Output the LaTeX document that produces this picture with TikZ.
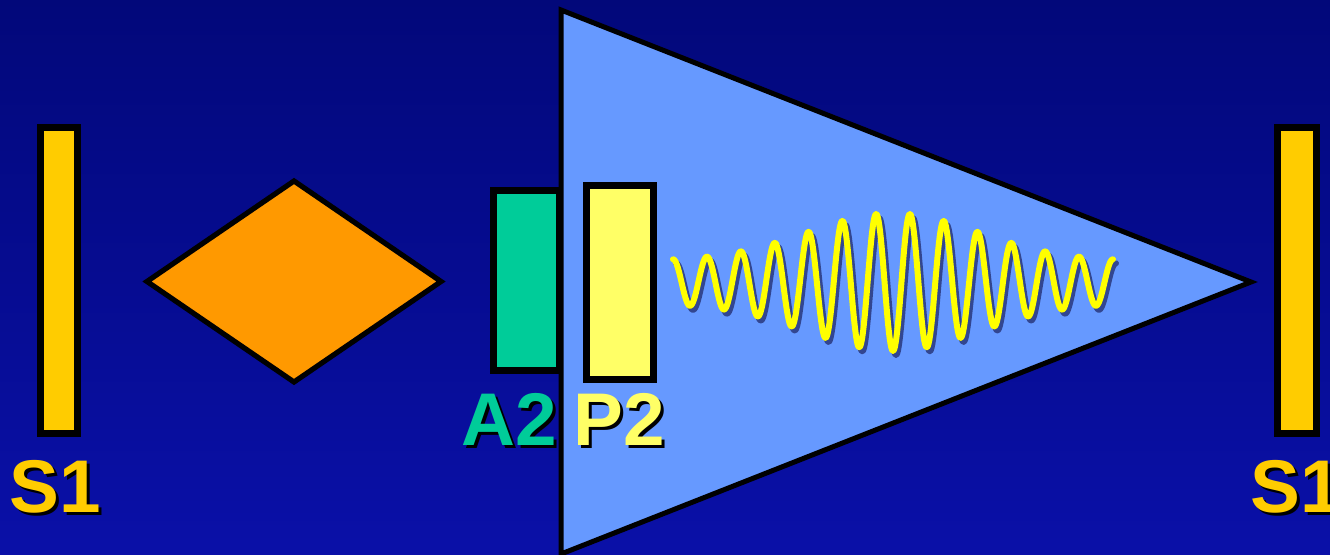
\documentclass[tikz,border=0pt]{standalone}
\usepackage{fontspec}
\setmainfont{Liberation Sans}
\definecolor{bgTop}{RGB}{2,8,122}
\definecolor{bgBot}{RGB}{10,16,168}
\definecolor{barYellow}{RGB}{255,204,0}
\definecolor{diaOrange}{RGB}{255,153,0}
\definecolor{aGreen}{RGB}{0,204,153}
\definecolor{pYellow}{RGB}{255,255,102}
\definecolor{triBlue}{RGB}{102,153,255}
\definecolor{waveYellow}{RGB}{255,255,0}
\definecolor{waveShadow}{RGB}{38,50,118}
\begin{document}
\begin{tikzpicture}[x=0.75pt,y=-0.75pt,
  barbox/.style={draw=black, line width=5.25pt, fill=barYellow},
  lbl/.style={font=\fontsize{56}{56}\selectfont\bfseries, inner sep=0pt, anchor=base},
  lblshadow/.style={lbl, text=black},
  wavestyle/.style={line width=4.5pt, line join=round, line cap=round}
]
\useasboundingbox (0,0) rectangle (1330,555);
\clip (0,0) rectangle (1330,555);
\shade[top color=bgTop, bottom color=bgBot] (0,0) rectangle (1330,555);

% left mirror S1
\path[barbox] (40.5,128) rectangle (77.5,433.5);
\node[lblshadow] (s1Lsh) at (58,515) {S1};
\node[lbl, text=barYellow] (s1L) at (55,512) {S1};

% diamond
\path[draw=black, line width=3.9pt, line join=miter, fill=diaOrange]
  (147,281.5) -- (294,181) -- (441,281.5) -- (294,382) -- cycle;

% amplifier triangle
\path[draw=black, line width=3.75pt, line join=miter, fill=triBlue]
  (561,10) -- (1251,282) -- (561,554) -- cycle;

% A2 block
\path[draw=black, line width=5.25pt, fill=aGreen] (493,191) rectangle (559,371);
\node[lblshadow] (a2sh) at (512,448) {A2};
\node[lbl, text=aGreen] (a2) at (509,445) {A2};

% P2 block
\path[draw=black, line width=5.25pt, fill=pYellow] (586.5,185.5) rectangle (653,379.5);
\node[lblshadow] (p2sh) at (622,448) {P2};
\node[lbl, text=pYellow] (p2) at (619,445) {P2};

% pulse
\draw[wavestyle, draw=waveShadow, opacity=0.8, shift={(3,4)}]
  plot[domain=673:1113, samples=600, variable=\t]
  ({\t},{282 - (21+48*exp(-((\t-893)/120)^2))*cos((\t-673)/33.846*360)});
\draw[wavestyle, draw=waveYellow]
  plot[domain=673:1113, samples=600, variable=\t]
  ({\t},{282 - (21+48*exp(-((\t-893)/120)^2))*cos((\t-673)/33.846*360)});

% right mirror S1
\path[barbox] (1277.5,128) rectangle (1316,433.5);
\node[lblshadow] (s1Rsh) at (1299,515) {S1};
\node[lbl, text=barYellow] (s1R) at (1296,512) {S1};
\end{tikzpicture}
\end{document}
